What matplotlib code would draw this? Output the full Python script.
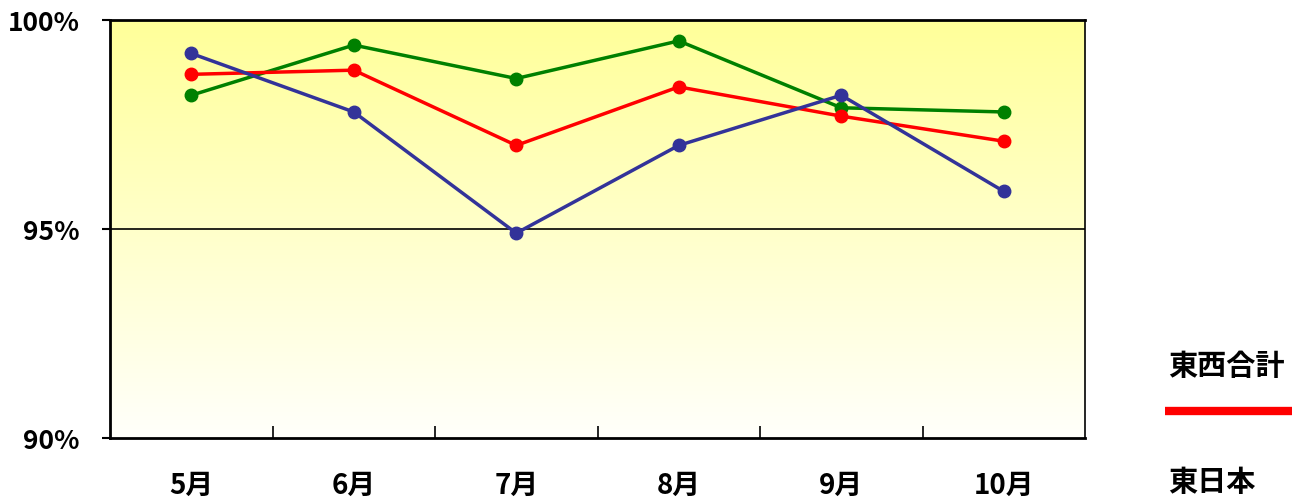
import numpy as np
import matplotlib
matplotlib.use("Agg")
import matplotlib.pyplot as plt
from matplotlib.colors import LinearSegmentedColormap

plt.rcParams['font.family'] = ['Noto Sans CJK JP', 'DejaVu Sans']

months = ["5月", "6月", "7月", "8月", "9月", "10月"]
total = [98.7, 98.8, 97.0, 98.4, 97.7, 97.1]      # 東西合計 (red)
west = [98.2, 99.4, 98.6, 99.5, 97.9, 97.8]       # green
east = [99.2, 97.8, 94.9, 97.0, 98.2, 95.9]       # 東日本 (blue)
ytick_vals = [90, 95, 100]
ytick_labels = ["90%", "95%", "100%"]
legend_labels = ["東西合計", "東日本"]

fig = plt.figure(figsize=(13, 5.02), dpi=100)
ax = fig.add_axes([110/1300, 63/502, 975/1300, 418/502])

x = np.arange(len(months))
ax.set_xlim(-0.5, len(months) - 0.5)
ax.set_ylim(90, 100)

cmap = LinearSegmentedColormap.from_list("bg", ["#FFFFFB", "#FFFF99"])
grad = np.linspace(0, 1, 256).reshape(-1, 1)
ax.imshow(grad, extent=[-0.5, len(months) - 0.5, 90, 100], origin="lower",
          aspect="auto", cmap=cmap, zorder=0)

ax.axhline(95, color="black", lw=1.2, zorder=1)

ms = 9
ax.plot(x, west, color="#008000", lw=2.5, marker="o", ms=ms, zorder=3)
ax.plot(x, total, color="#FF0000", lw=2.5, marker="o", ms=ms, zorder=4)
ax.plot(x, east, color="#333399", lw=2.5, marker="o", ms=ms, zorder=5)

ax.set_yticks(ytick_vals)
ax.set_yticklabels(ytick_labels, fontsize=19, fontweight="bold")
ax.tick_params(axis="y", length=6, width=1.5, direction="out", pad=16)

ax.set_xticks(x)
ax.set_xticklabels(months, fontsize=20, fontweight="bold")
ax.tick_params(axis="x", which="major", length=0, pad=24)
ax.set_xticks(np.arange(0.5, len(months) - 1, 1), minor=True)
ax.tick_params(axis="x", which="minor", length=9, width=1.2, direction="in")

for s in ["left", "bottom", "top"]:
    ax.spines[s].set_linewidth(2)
ax.spines["right"].set_linewidth(1.2)

fig.text(1168/1300, 1 - 366/502, legend_labels[0], fontsize=21, fontweight="bold",
         va="center", ha="left")
fig.add_artist(plt.Line2D([1165/1300, 1292/1300], [1 - 412/502, 1 - 412/502],
                          color="#FF0000", lw=6, solid_capstyle="butt"))
fig.text(1168/1300, 1 - 482/502, legend_labels[1], fontsize=21, fontweight="bold",
         va="center", ha="left")

fig.savefig("out.png", dpi=100)
